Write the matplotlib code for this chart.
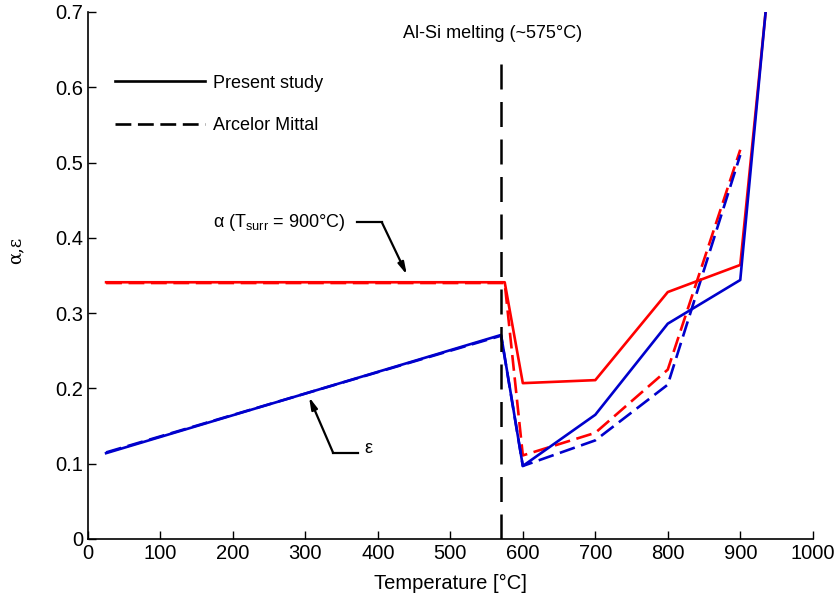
import numpy as np
import matplotlib
matplotlib.use("Agg")
import matplotlib.pyplot as plt
from matplotlib.lines import Line2D

plt.rcParams["font.family"] = ["Liberation Sans", "DejaVu Sans"]
plt.rcParams["mathtext.fontset"] = "custom"
plt.rcParams["mathtext.rm"] = "Liberation Sans"

# Absorptivity alpha (T_surr = 900 C)
alpha_present_T = [25, 575, 600, 700, 800, 900, 935]
alpha_present = [0.341, 0.341, 0.207, 0.211, 0.328, 0.364, 0.700]
alpha_arcelor_T = [25, 575, 600, 700, 800, 900]
alpha_arcelor = [0.340, 0.340, 0.111, 0.141, 0.225, 0.517]

# Emissivity epsilon
eps_present_T = [25, 570, 600, 700, 800, 900, 935]
eps_present = [0.114, 0.271, 0.097, 0.165, 0.286, 0.344, 0.700]
eps_arcelor_T = [25, 570, 600, 700, 800, 900]
eps_arcelor = [0.115, 0.270, 0.097, 0.131, 0.205, 0.510]

melt_T = 570
red = "#ff0000"
blue = "#0000cc"
lw = 1.9
dash = (6, 2.5)

fig = plt.figure(figsize=(8.37, 6.08), dpi=100)
ax = fig.add_axes([0.1051, 0.1135, 0.8659, 0.8668])

ax.plot(alpha_arcelor_T, alpha_arcelor, color=red, lw=lw, dashes=dash)
ax.plot(eps_arcelor_T, eps_arcelor, color=blue, lw=lw, dashes=dash)
ax.plot(alpha_present_T, alpha_present, color=red, lw=lw)
ax.plot(eps_present_T, eps_present, color=blue, lw=lw)

# melting line
ax.vlines(melt_T, 0, 0.645, color="black", lw=1.8, linestyles=(0, (10, 5)))
ax.text(558, 0.672, "Al-Si melting (~575\u00b0C)", ha="center", va="center", fontsize=13)

# annotations
ax.text(355, 0.421, r"α (T$_{\rm surr}$ = 900°C)", ha="right", va="center", fontsize=13)
ax.plot([371, 405.5], [0.4206, 0.4206], color="black", lw=1.6)
ax.annotate("", xy=(440, 0.351), xytext=(405.5, 0.4206),
            arrowprops=dict(arrowstyle="-|>,head_length=0.7,head_width=0.18",
                            color="black", lw=1.6, shrinkA=0, shrinkB=0))

ax.text(382, 0.12, "ε", ha="left", va="center", fontsize=13)
ax.plot([338.4, 373], [0.1142, 0.1142], color="black", lw=1.6)
ax.annotate("", xy=(305, 0.1886), xytext=(338.4, 0.1142),
            arrowprops=dict(arrowstyle="-|>,head_length=0.7,head_width=0.18",
                            color="black", lw=1.6, shrinkA=0, shrinkB=0))

handles = [Line2D([], [], color="black", lw=lw),
           Line2D([], [], color="black", lw=lw, dashes=dash)]
ax.legend(handles, ["Present study", "Arcelor Mittal"], loc="upper left",
          bbox_to_anchor=(0.015, 0.912), frameon=False, fontsize=13,
          handlelength=5.0, handletextpad=0.4, labelspacing=1.4)

ax.set_xlim(0, 1000)
ax.set_ylim(0, 0.7)
ax.set_xticks(np.arange(0, 1001, 100))
ax.set_yticks(np.arange(0, 0.71, 0.1))
ax.set_yticklabels(["0", "0.1", "0.2", "0.3", "0.4", "0.5", "0.6", "0.7"])
ax.tick_params(direction="in", length=6, width=1, labelsize=14.5)
ax.spines["top"].set_visible(False)
ax.spines["right"].set_visible(False)
for s in ["left", "bottom"]:
    ax.spines[s].set_linewidth(1.2)

ax.set_xlabel("Temperature [\u00b0C]", fontsize=14.5, labelpad=8)
ax.set_ylabel("α,ε", fontsize=13, family="DejaVu Serif")
ax.yaxis.set_label_coords(-0.088, 0.548)

fig.savefig("out.png", dpi=100)
